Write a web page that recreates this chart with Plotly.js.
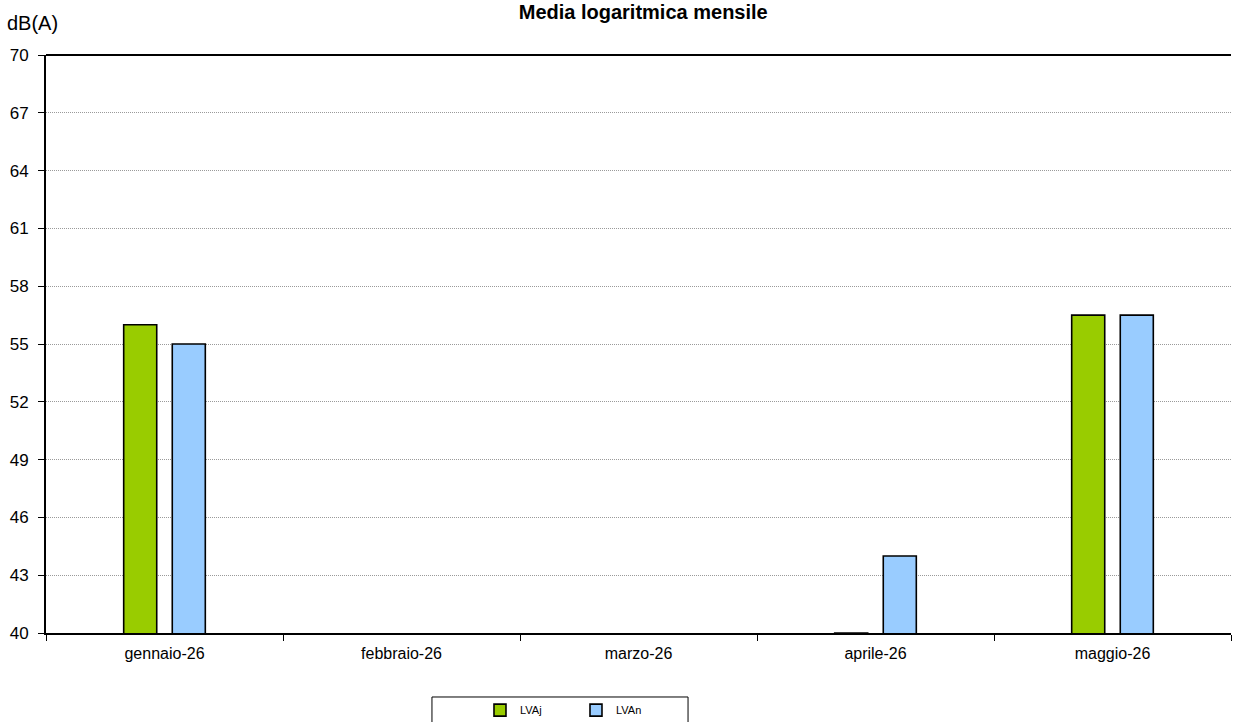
<!DOCTYPE html>
<html>
<head>
<meta charset="utf-8">
<script src="https://cdn.plot.ly/plotly-3.0.1.min.js"></script>
<style>html,body{margin:0;padding:0;background:#fff;}#chart{width:1239px;height:722px;}</style>
</head>
<body>
<div id="chart"></div>
<script>
const categories = ["gennaio-26", "febbraio-26", "marzo-26", "aprile-26", "maggio-26"];
const seriesNames = ["LVAj", "LVAn"];
const lvaj = [56.0, null, null, 40.0, 56.5];
const lvan = [55.0, null, null, 44.0, 56.5];
const yTicks = [40, 43, 46, 49, 52, 55, 58, 61, 64, 67, 70];

const traces = [
  {type: "bar", name: seriesNames[0], x: categories, y: lvaj,
   marker: {color: "#99cc00", line: {color: "#000000", width: 1.6}}},
  {type: "bar", name: seriesNames[1], x: categories, y: lvan,
   marker: {color: "#99ccff", line: {color: "#000000", width: 1.6}}}
];

const layout = {
  width: 1239, height: 722,
  margin: {l: 46, r: 8, t: 55, b: 89},
  paper_bgcolor: "#ffffff", plot_bgcolor: "#ffffff",
  font: {family: "Liberation Sans, Arial, sans-serif", color: "#000000"},
  title: {text: "<b>Media logaritmica mensile</b>", font: {size: 20, family: "Liberation Sans, Arial, sans-serif"},
          xref: "paper", x: 0.504, xanchor: "center", yref: "container", y: 0.983, yanchor: "middle"},
  barmode: "group", bargap: 0.59, bargroupgap: 0.32,
  showlegend: true,
  legend: {orientation: "h", xref: "container", x: 0.3874, xanchor: "left",
           yref: "container", y: 0.0165, yanchor: "middle",
           font: {size: 11}, bgcolor: "rgba(0,0,0,0)", borderwidth: 0, entrywidth: 51, entrywidthmode: "pixels"},
  xaxis: {type: "category", tickson: "boundaries", ticks: "outside", ticklen: 6, tickcolor: "#000",
          showline: true, linecolor: "#000", linewidth: 2, showgrid: false,
          tickfont: {size: 16}, ticklabelstandoff: 5, automargin: false},
  yaxis: {range: [40, 70], tickvals: yTicks, ticks: "outside", ticklen: 6, tickcolor: "#000",
          showline: true, linecolor: "#000", linewidth: 2, zeroline: false,
          showgrid: true, gridcolor: "#9a9a9a", griddash: "1px,1px", gridwidth: 1,
          tickfont: {size: 17}, ticklabelstandoff: 6, automargin: false},
  shapes: [
    {type: "line", xref: "paper", yref: "paper", x0: 0, x1: 1, y0: 1, y1: 1, line: {color: "#000", width: 2}},
    {type: "rect", xref: "paper", yref: "paper", x0: 0.3257, x1: 0.5418, y0: -0.1107, y1: -0.17,
     line: {color: "#000", width: 1}, fillcolor: "rgba(0,0,0,0)"}
  ],
  annotations: [
    {text: "dB(A)", xref: "paper", yref: "paper", x: -0.0346, y: 1.055, xanchor: "left", yanchor: "middle",
     showarrow: false, font: {size: 20}}
  ]
};

Plotly.newPlot("chart", traces, layout, {displayModeBar: false, staticPlot: true});
</script>
</body>
</html>
